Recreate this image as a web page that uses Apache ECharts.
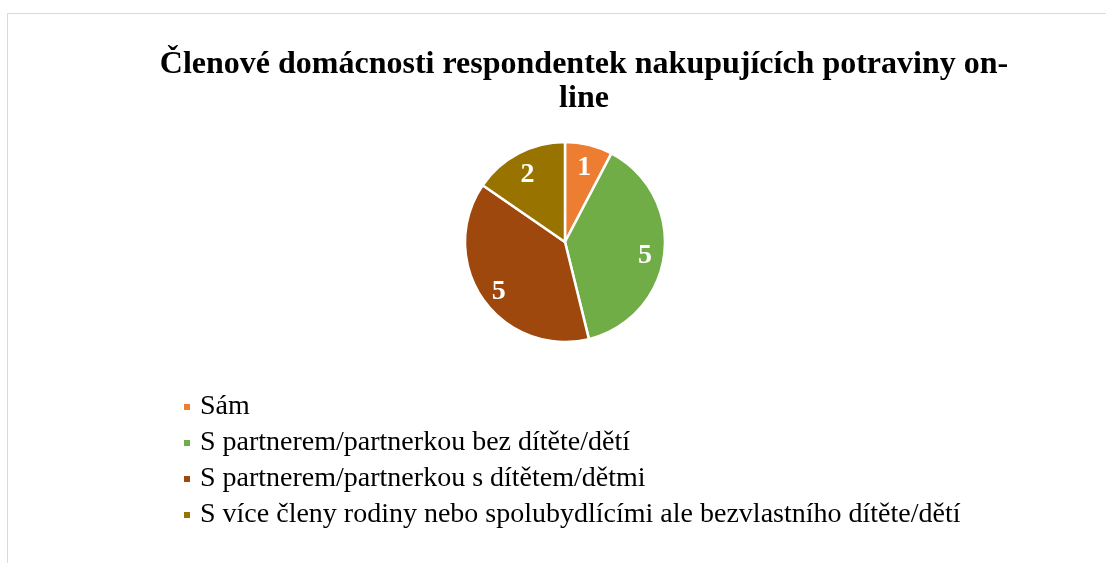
<!DOCTYPE html>
<html>
<head>
<meta charset="utf-8">
<script src="https://cdn.jsdelivr.net/npm/echarts@6/dist/echarts.min.js"></script>
<style>
html,body{margin:0;padding:0;background:#fff;}
#frame{position:absolute;left:7px;top:13px;width:1110px;height:560px;border:1px solid #d9d9d9;box-sizing:border-box;}
#chart{position:absolute;left:0;top:0;width:1106px;height:563px;}
</style>
</head>
<body>
<div id="frame"></div>
<div id="chart"></div>
<script>
const titleText = 'Členové domácnosti respondentek nakupujících potraviny on-\nline';
const categories = [
  'Sám',
  'S partnerem/partnerkou bez dítěte/dětí',
  'S partnerem/partnerkou s dítětem/dětmi',
  'S více členy rodiny nebo spolubydlícími ale bezvlastního dítěte/dětí'
];
const values = [1, 5, 5, 2];
const colors = ['#ED7D31', '#70AD47', '#9E480E', '#997300'];

const data = categories.map((c, i) => ({ name: c, value: values[i], itemStyle: { color: colors[i] } }));
const labelData = categories.map((c, i) => ({ name: c, value: values[i] }));

const chart = echarts.init(document.getElementById('chart'), null, { renderer: 'canvas' });
chart.setOption({
  backgroundColor: 'transparent',
  animation: false,
  title: {
    text: titleText,
    left: 579,
    textAlign: 'center',
    top: 43,
    textStyle: {
      fontFamily: '"Liberation Serif", "Times New Roman", serif',
      fontWeight: 'bold',
      fontSize: 32,
      lineHeight: 34,
      color: '#000'
    }
  },
  legend: {
    orient: 'vertical',
    left: 177,
    top: 388,
    icon: 'rect',
    itemWidth: 8,
    itemHeight: 8,
    itemGap: 8,
    data: categories,
    textStyle: {
      fontFamily: '"Liberation Serif", "Times New Roman", serif',
      fontSize: 28,
      lineHeight: 28,
      color: '#000',
      padding: [0, 0, 0, 4]
    }
  },
  series: [
    {
      type: 'pie',
      center: [565, 242],
      radius: [0, 100],
      startAngle: 90,
      clockwise: true,
      data: data,
      label: { show: false },
      labelLine: { show: false },
      itemStyle: { borderColor: '#fff', borderWidth: 2.5 },
      emphasis: { disabled: true }
    },
    {
      type: 'pie',
      center: [565, 242],
      radius: [55, 100],
      startAngle: 90,
      clockwise: true,
      silent: true,
      data: labelData,
      itemStyle: { color: 'rgba(0,0,0,0)', borderWidth: 0 },
      label: {
        show: true,
        position: 'inside',
        formatter: '{c}',
        color: '#fff',
        offset: [0, 4],
        fontFamily: '"Liberation Serif", "Times New Roman", serif',
        fontWeight: 'bold',
        fontSize: 28
      },
      labelLine: { show: false },
      emphasis: { disabled: true }
    }
  ]
});
</script>
</body>
</html>
